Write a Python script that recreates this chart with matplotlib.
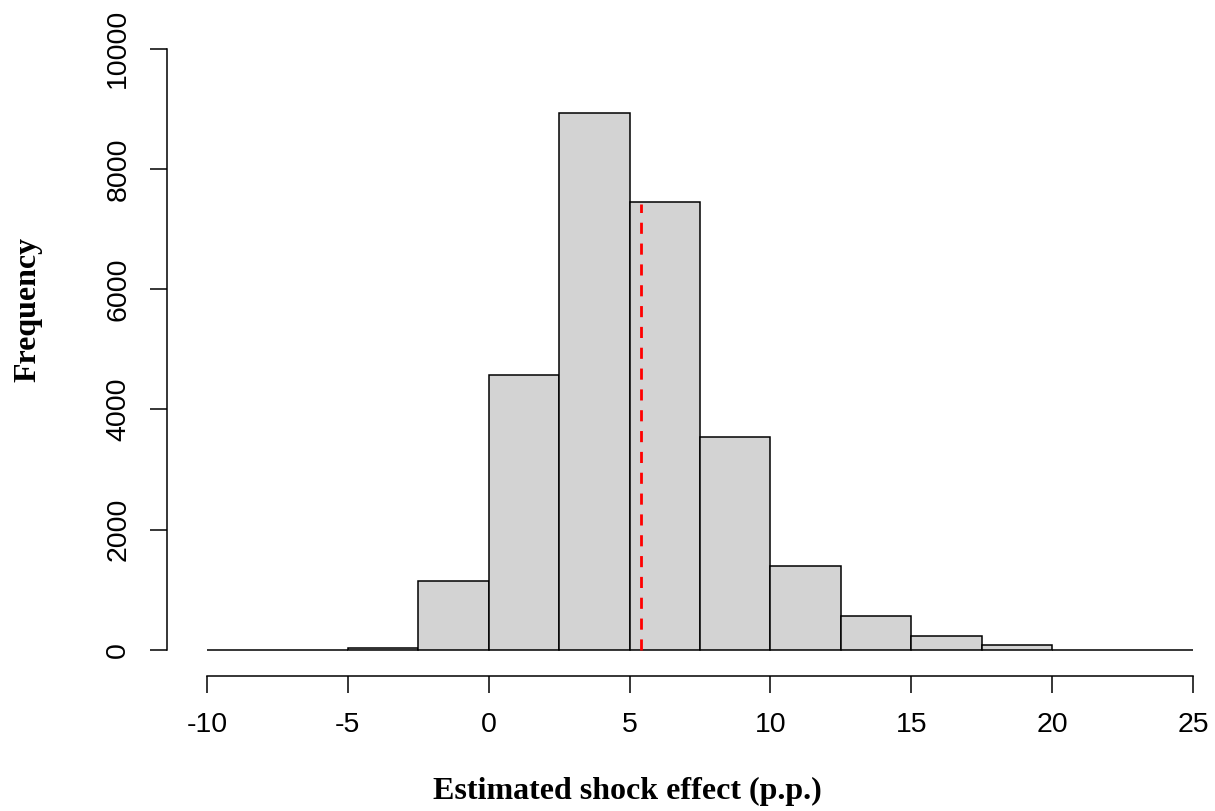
import numpy as np
import matplotlib.pyplot as plt

# histogram bins (p.p.) and counts
bin_edges = [-10, -7.5, -5, -2.5, 0, 2.5, 5, 7.5, 10, 12.5, 15, 17.5, 20, 22.5, 25]
counts = [0, 0, 30, 1150, 4570, 8935, 7450, 3545, 1390, 565, 233, 85, 0, 0]
mean_effect = 5.41
mean_line_top = 7420
x_ticks = [-10, -5, 0, 5, 10, 15, 20, 25]
y_ticks = [0, 2000, 4000, 6000, 8000, 10000]

W, H = 1215, 811
fig = plt.figure(figsize=(W / 100, H / 100), dpi=100)

# axes placed so data maps onto the reference pixel grid
left_px, right_px, bottom_px, top_px = 167, 1215, 676, 25
ax = fig.add_axes([left_px / W, 1 - bottom_px / H,
                   (right_px - left_px) / W, (bottom_px - top_px) / H])
px_per_x = (1193 - 207) / 35.0
px_per_y = (650 - 48.5) / 10000.0
ax.set_xlim(-10 - (207 - left_px) / px_per_x, 25 + (right_px - 1193) / px_per_x)
ax.set_ylim(-(bottom_px - 650) / px_per_y, 10000 + (48.5 - top_px) / px_per_y)

left_edges = bin_edges[:-1]
widths = np.diff(bin_edges)
ax.bar(left_edges, counts, width=widths, align="edge", color="#d3d3d3",
       edgecolor="black", linewidth=1.1, zorder=2)
ax.plot([mean_effect, mean_effect], [0, mean_line_top], color="red",
        linewidth=2.0, linestyle=(0, (4, 3.5)), zorder=3)

for s in ["top", "right"]:
    ax.spines[s].set_visible(False)
ax.spines["left"].set_bounds(0, 10000)
ax.spines["bottom"].set_bounds(-10, 25)
for s in ["left", "bottom"]:
    ax.spines[s].set_linewidth(1.1)

ax.set_xticks(x_ticks)
ax.set_xticklabels([str(t) for t in x_ticks])
ax.set_yticks(y_ticks)
ax.set_yticklabels([str(t) for t in y_ticks], rotation=90, va="center")
ax.tick_params(axis="both", direction="out", length=12.2, width=1.1,
               labelsize=20.5, pad=13.5, colors="black")
for lab in ax.get_xticklabels() + ax.get_yticklabels():
    lab.set_family("Liberation Sans")

fig.text(627.5 / W, 1 - 799 / H, "Estimated shock effect (p.p.)",
         ha="center", va="baseline", fontsize=23, fontweight="bold",
         family="Liberation Serif")
fig.text(35 / W, 1 - 309 / H, "Frequency", rotation=90,
         rotation_mode="anchor", ha="center", va="baseline",
         fontsize=23, fontweight="bold", family="Liberation Serif")

fig.savefig("out.png", dpi=100)
